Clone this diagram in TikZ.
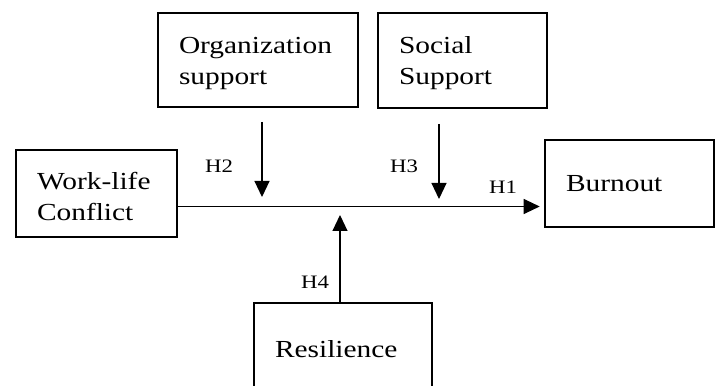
\documentclass[tikz,border=0pt]{standalone}
\usepackage{fontspec}
\setmainfont{Liberation Serif}
\usetikzlibrary{arrows.meta,calc}
\newcommand{\wx}[1]{\scalebox{1.2}[1]{#1}}
\newcommand{\lowr}{\rule{0pt}{23pt}}
\tikzset{
  box/.style={draw=black, line width=2.6pt, rectangle, inner xsep=21pt, inner ysep=0pt, align=left,
    font=\fontsize{24.5}{31}\selectfont},
  hlab/.style={inner sep=0pt, font=\fontsize{19}{22}\selectfont},
  arr/.style={draw=black, line width=1.1pt, -{Triangle[length=16pt,width=15pt]}}
}
\begin{document}
\begin{tikzpicture}[x=1pt,y=1pt]
\useasboundingbox (0,0) rectangle (719,385);
\clip (0,0) rectangle (719,385);
\node[box, minimum width=200pt, minimum height=94pt, text width=158pt] (org) at (258,325) {\lowr\wx{Organization}\\\wx{support}};
\node[box, minimum width=169pt, minimum height=95pt, text width=127pt] (soc) at (462.5,324.5) {\lowr\wx{Social}\\\wx{Support}};
\node[box, minimum width=161pt, minimum height=87pt, text width=119pt] (wlc) at (96.5,191.5) {\lowr\wx{Work-life}\\\wx{Conflict}};
\node[box, minimum width=169pt, minimum height=87pt, text width=127pt] (burn) at (629.5,201.5) {\wx{Burnout}};
\node[box, minimum width=178pt, minimum height=92pt, text width=136pt] (res) at (343,36) {\wx{Resilience}};

\coordinate (mainy) at (0,178.5);
\coordinate (h2s) at (262,263);
\coordinate (h2e) at (262,188);
\coordinate (h3s) at (439,261);
\coordinate (h3e) at (439,186);
\coordinate (h4e) at (340,170);

\draw[arr, shorten >=4pt] (wlc.east |- mainy) -- (burn.west |- mainy);
\draw[arr] (h2s) -- (h2e);
\draw[arr] (h3s) -- (h3e);
\draw[arr] (res.north -| h4e) -- (h4e);

\node[hlab] (l2) at (219,219) {\wx{H2}};
\node[hlab] (l3) at (404,219) {\wx{H3}};
\node[hlab] (l1) at (503,198) {\wx{H1}};
\node[hlab] (l4) at (315,103) {\wx{H4}};
\end{tikzpicture}
\end{document}
